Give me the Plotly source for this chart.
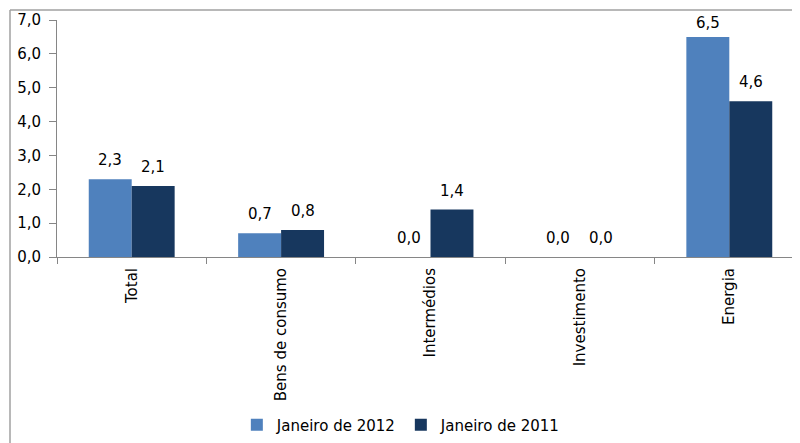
import plotly.graph_objects as go

categories = ["Total", "Bens de consumo", "Intermédios", "Investimento", "Energia"]
jan_2012 = [2.3, 0.7, 0.0, 0.0, 6.5]
jan_2011 = [2.1, 0.8, 1.4, 0.0, 4.6]
series_names = ["Janeiro de 2012", "Janeiro de 2011"]
y_ticks = [0, 1, 2, 3, 4, 5, 6, 7]

FONT = "DejaVu Sans"
OFF = 8  # page body margin in the browser
W, H = 800, 443
L, R, T, B = 57 - OFF, 0, 20 - OFF, 443 - (257 - OFF)
BARGAP = 0.425
PW = W - L - R
PH = H - T - B
CAT_PX = 149.4
X_RANGE = [-0.5, -0.5 + PW / CAT_PX]
Y_RANGE = [0, 7]
HALF_BAR_PX = CAT_PX * (1 - BARGAP) / 4

def fmt(v):
    return f"{v:.1f}".replace(".", ",")

def label_shift(v):
    # keep the label inside the plot area, as the original does
    room = PH * (Y_RANGE[1] - v) / (Y_RANGE[1] - Y_RANGE[0])
    return 8 if room - 8 - 19 >= 0 else 3

fig = go.Figure()
series = [(series_names[0], jan_2012, "#4F81BD", -HALF_BAR_PX),
          (series_names[1], jan_2011, "#17375E", HALF_BAR_PX)]
for name, vals, col, shift in series:
    fig.add_trace(go.Bar(
        x=categories, y=vals, name=name,
        marker=dict(color=col, line=dict(width=0)),
    ))
    for c, v in zip(categories, vals):
        fig.add_annotation(x=c, y=v, text=fmt(v), showarrow=False,
                           xshift=shift, yshift=label_shift(v), yanchor="bottom",
                           font=dict(family=FONT, size=15, color="#000000"))

legend_cx = (57 + 0.452 * 743 - L) / PW
legend_cy = (T + PH - (425 - OFF)) / PH

fig.update_layout(
    width=W, height=H,
    margin=dict(l=L, r=R, t=T, b=B, pad=0, autoexpand=False),
    paper_bgcolor="white", plot_bgcolor="white",
    barmode="group", bargap=BARGAP, bargroupgap=0,
    font=dict(family=FONT, size=15, color="#000000"),
    showlegend=True,
    legend=dict(orientation="h", x=legend_cx, xanchor="center", y=legend_cy,
                yanchor="middle", font=dict(family=FONT, size=15), itemwidth=30,
                traceorder="normal"),
    xaxis=dict(range=X_RANGE, showline=True, linecolor="#868686", linewidth=1,
               ticks="outside", ticklen=6, tickcolor="#868686", tickson="boundaries",
               tickangle=-90, showgrid=False, zeroline=False, automargin=False,
               ticklabelstandoff=4,
               tickfont=dict(family=FONT, size=15)),
    yaxis=dict(range=Y_RANGE, tickvals=y_ticks, ticktext=[fmt(v) for v in y_ticks],
               showline=True, linecolor="#868686", linewidth=1,
               ticks="outside", ticklen=7, tickcolor="#868686",
               showgrid=False, zeroline=False, automargin=False,
               ticklabelstandoff=5,
               tickfont=dict(family=FONT, size=15)),
)

# outer chart frame (top and left edges visible in the crop)
y_top = (T + PH - (10 - OFF)) / PH
y_bot = (T + PH - H - 5) / PH
x_left = ((10 - OFF) - L) / PW
fig.add_shape(type="line", xref="paper", yref="paper", x0=x_left, x1=1.02, y0=y_top, y1=y_top,
              line=dict(color="#A0A0A0", width=1.5))
fig.add_shape(type="line", xref="paper", yref="paper", x0=x_left, x1=x_left, y0=y_top, y1=y_bot,
              line=dict(color="#A0A0A0", width=1.5))

fig.write_html("out.html")
